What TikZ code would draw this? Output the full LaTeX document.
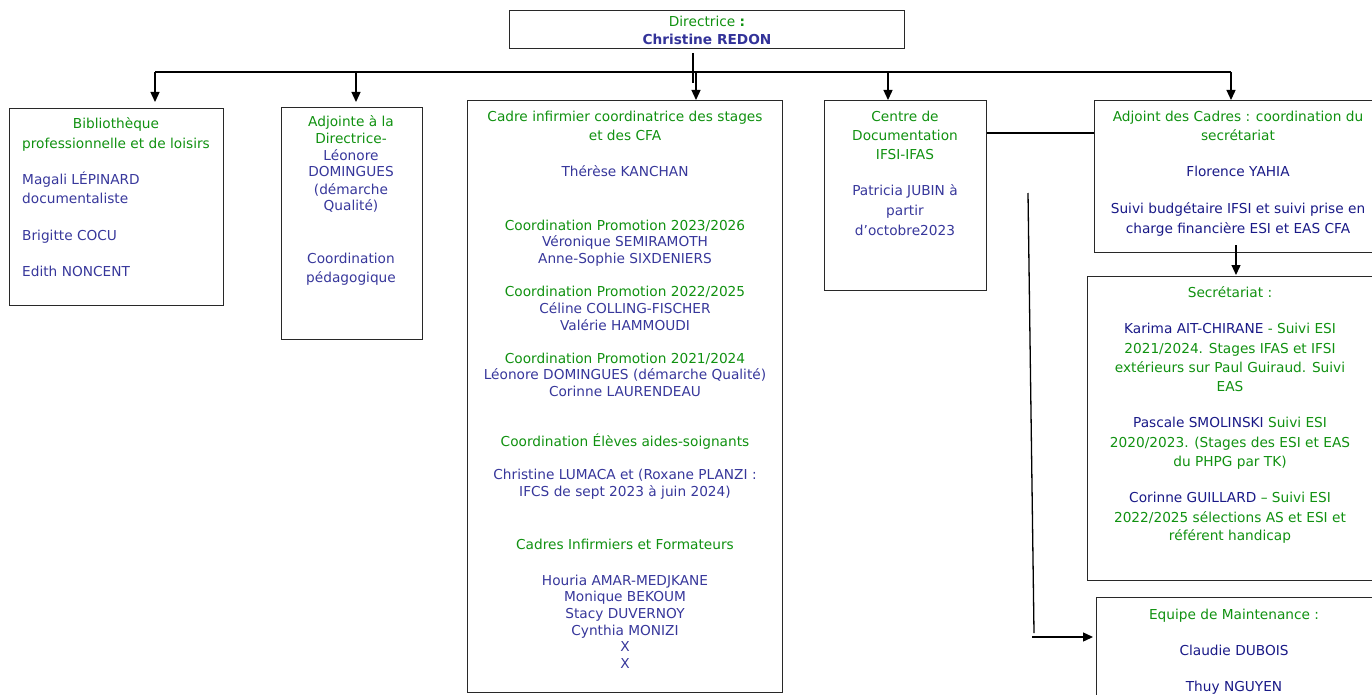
\documentclass[tikz,border=0pt]{standalone}
\usepackage{fontspec}
\setmainfont{DejaVu Sans}
\usetikzlibrary{arrows.meta}
\definecolor{grn}{RGB}{16,145,16}
\definecolor{blu}{RGB}{55,55,155}
\definecolor{nav}{RGB}{25,25,135}
\definecolor{ttl}{RGB}{51,51,153}
\definecolor{edge}{RGB}{40,40,40}
\newcommand{\fsz}{\fontsize{13.7}{16}\selectfont}
\tikzset{
  ln/.style={anchor=base, inner sep=0pt, font=\fsz},
  lnw/.style={anchor=base west, inner sep=0pt, font=\fsz},
  g/.style={text=grn},
  b/.style={text=blu},
  n/.style={text=nav},
  bx/.style={draw=edge, line width=1.4pt, anchor=north west, inner sep=0pt},
  conn/.style={line width=1.3pt, black},
  arr/.style={conn, -{Triangle[width=9pt,length=10pt]}}
}
\begin{document}
\begin{tikzpicture}[x=1pt,y=-1pt]
\useasboundingbox (0,0) rectangle (1372,695);
% boxes
\node[bx, minimum width=395pt, minimum height=38pt] (dir) at (509,10) {};
\node[bx, minimum width=214pt, minimum height=197pt] (b1) at (9,108) {};
\node[bx, minimum width=141pt, minimum height=232pt] (b2) at (281,107) {};
\node[bx, minimum width=315pt, minimum height=592pt] (b3) at (467,100) {};
\node[bx, minimum width=162pt, minimum height=190pt] (b4) at (824,100) {};
\node[bx, minimum width=300pt, minimum height=152pt] (b5) at (1094,100) {};
\node[bx, minimum width=300pt, minimum height=304pt] (b6) at (1087,276) {};
\node[bx, minimum width=300pt, minimum height=130pt] (b7) at (1096,597) {};
% connectors
\coordinate (d0) at (693,53);
\coordinate (d1) at (693,83);
\draw[conn] (d0) -- (d1);
\coordinate (busL) at (155,72);
\coordinate (busA) at (356,72);
\coordinate (busC) at (696,72);
\coordinate (busD) at (888,72);
\coordinate (busR) at (1231,72);
\draw[conn] (busL) -- (busR);
\draw[arr, shorten >=6pt] (busL) -- (busL |- b1.north);
\draw[arr, shorten >=5pt] (busA) -- (busA |- b2.north);
\draw[arr] (busC) -- (busC |- b3.north);
\draw[arr] (busD) -- (busD |- b4.north);
\draw[arr] (busR) -- (busR |- b5.north);
\coordinate (h45) at (0,133);
\draw[conn] (b4.east |- h45) -- (b5.west |- h45);
\coordinate (s0) at (1236,245);
\draw[arr, shorten >=1pt] (s0) -- (s0 |- b6.north);
\coordinate (m0) at (1028,193);
\coordinate (m1) at (1034,633);
\coordinate (m2) at (1032,637);
\draw[conn] (m0) -- (m1);
\draw[arr, shorten >=3pt] (m2) -- (b7.west |- m2);
% title
\node[ln, g] (t0) at (707,27) {Directrice \textbf{:}};
\node[ln, text=ttl, font=\fsz\bfseries] (t00) at (707,45) {Christine REDON};
% box 1
\node[ln, g] (t1) at (116,129) {Bibliothèque};
\node[ln, g] (t2) at (116,149) {professionnelle et de loisirs};
\node[lnw, b] (t3) at (22,185) {Magali LÉPINARD};
\node[lnw, b] (t4) at (22,204) {documentaliste};
\node[lnw, b] (t5) at (22,240) {Brigitte COCU};
\node[lnw, b] (t6) at (22,276) {Edith NONCENT};
% box 2
\node[ln, g] (t7) at (351,127) {Adjointe à la};
\node[ln, g] (t8) at (351,144) {Directrice-};
\node[ln, b] (t9) at (351,161) {Léonore};
\node[ln, b] (t10) at (351,177) {DOMINGUES};
\node[ln, b] (t11) at (351,194) {(démarche};
\node[ln, b] (t12) at (351,211) {Qualité)};
\node[ln, b] (t13) at (351,263) {Coordination};
\node[ln, b] (t14) at (351,282) {pédagogique};
% box 3
\node[ln, g] (t15) at (625,122) {Cadre infirmier coordinatrice des stages};
\node[ln, g] (t16) at (625,141) {et des CFA};
\node[ln, b] (t17) at (625,177) {Thérèse KANCHAN};
\node[ln, g] (t18) at (625,230) {Coordination Promotion 2023/2026};
\node[ln, b] (t19) at (625,246) {Véronique SEMIRAMOTH};
\node[ln, b] (t20) at (625,263) {Anne-Sophie SIXDENIERS};
\node[ln, g] (t21) at (625,296) {Coordination Promotion 2022/2025};
\node[ln, b] (t22) at (625,313) {Céline COLLING-FISCHER};
\node[ln, b] (t23) at (625,330) {Valérie HAMMOUDI};
\node[ln, g] (t24) at (625,363) {Coordination Promotion 2021/2024};
\node[ln, b] (t25) at (625,379) {Léonore DOMINGUES (démarche Qualité)};
\node[ln, b] (t26) at (625,396) {Corinne LAURENDEAU};
\node[ln, g] (t27) at (625,446) {Coordination Élèves aides-soignants};
\node[ln, b] (t28) at (625,479) {Christine LUMACA et (Roxane PLANZI :};
\node[ln, b] (t29) at (625,496) {IFCS de sept 2023 à juin 2024)};
\node[ln, g] (t30) at (625,549) {Cadres Infirmiers et Formateurs};
\node[ln, b] (t31) at (625,585) {Houria AMAR-MEDJKANE};
\node[ln, b] (t32) at (625,601) {Monique BEKOUM};
\node[ln, b] (t33) at (625,618) {Stacy DUVERNOY};
\node[ln, b] (t34) at (625,635) {Cynthia MONIZI};
\node[ln, b] (t35) at (625,651) {X};
\node[ln, b] (t36) at (625,668) {X};
% box 4
\node[ln, g] (t37) at (905,122) {Centre de};
\node[ln, g] (t38) at (905,141) {Documentation};
\node[ln, g] (t39) at (905,160) {IFSI-IFAS};
\node[ln, b] (t40) at (905,196) {Patricia JUBIN à};
\node[ln, b] (t41) at (905,215) {partir};
\node[ln, b] (t42) at (905,235) {d’octobre2023};
% box 5
\node[ln, g] (t43) at (1238,122) {Adjoint des Cadres : coordination du};
\node[ln, g] (t44) at (1238,141) {secrétariat};
\node[ln, n] (t45) at (1238,177) {Florence YAHIA};
\node[ln, n] (t46) at (1238,213) {Suivi budgétaire IFSI et suivi prise en};
\node[ln, n] (t47) at (1238,233) {charge financière ESI et EAS CFA};
% box 6
\node[ln, g] (t48) at (1230,297) {Secrétariat :};
\node[ln, g] (t49) at (1230,333) {{\color{nav}Karima AIT-CHIRANE} - Suivi ESI};
\node[ln, g] (t50) at (1230,353) {2021/2024. Stages IFAS et IFSI};
\node[ln, g] (t51) at (1230,372) {extérieurs sur Paul Guiraud. Suivi};
\node[ln, g] (t52) at (1230,391) {EAS};
\node[ln, g] (t53) at (1230,427) {{\color{nav}Pascale SMOLINSKI} Suivi ESI};
\node[ln, g] (t54) at (1230,447) {2020/2023. (Stages des ESI et EAS};
\node[ln, g] (t55) at (1230,466) {du PHPG par TK)};
\node[ln, g] (t56) at (1230,502) {{\color{nav}Corinne GUILLARD} – Suivi ESI};
\node[ln, g] (t57) at (1230,522) {2022/2025 sélections AS et ESI et};
\node[ln, g] (t58) at (1230,540) {référent handicap};
% box 7
\node[ln, g] (t59) at (1234,619) {Equipe de Maintenance :};
\node[ln, n] (t60) at (1234,655) {Claudie DUBOIS};
\node[ln, n] (t61) at (1234,691) {Thuy NGUYEN};
\end{tikzpicture}
\end{document}
